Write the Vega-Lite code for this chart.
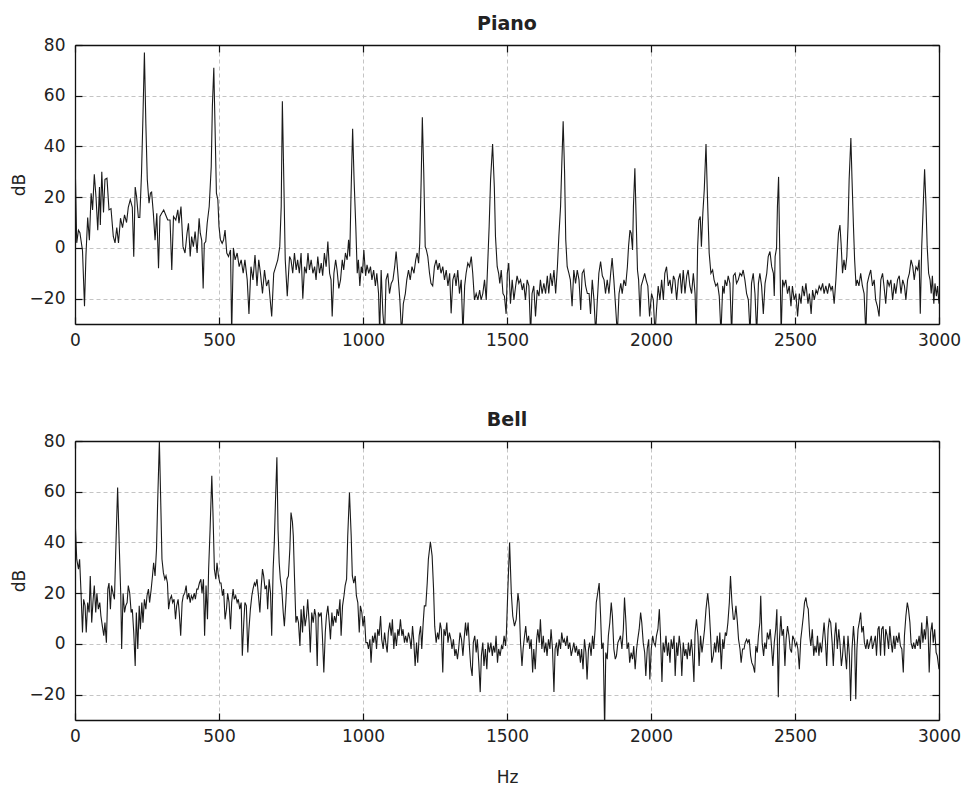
{
"$schema": "https://vega.github.io/schema/vega-lite/v6.json",
"background": "white",
"padding": {"left": 10, "top": 15, "right": 3, "bottom": 5},
"config": {
  "font": "DejaVu Sans",
  "view": {"stroke": null},
  "axis": {"labelFont": "DejaVu Sans", "labelFontSize": 17, "labelColor": "#222", "labelFlush": false, "titleFont": "DejaVu Sans", "titleFontSize": 17, "titleFontWeight": "normal", "titleColor": "#222", "gridColor": "#c4c4c4", "gridDash": [4, 3], "gridWidth": 1, "domain": true, "domainColor": "#111", "domainWidth": 1.3, "tickColor": "#111", "tickSize": -7, "tickWidth": 1.2, "zindex": 1},
  "title": {"font": "DejaVu Sans", "fontSize": 19, "fontWeight": "bold", "color": "#222", "offset": 2},
  "concat": {"spacing": 63}
},
"datasets": {
"piano": [{"f":0,"d":37},{"f":6,"d":2},{"f":12,"d":7},{"f":17,"d":6},{"f":26,"d":-1},{"f":33,"d":-23},{"f":38,"d":-3},{"f":44,"d":12},{"f":50,"d":3},{"f":56,"d":21.5},{"f":61,"d":15},{"f":67,"d":29},{"f":73,"d":20},{"f":79,"d":7},{"f":85,"d":24},{"f":88,"d":9},{"f":93,"d":30},{"f":99,"d":14},{"f":104,"d":27},{"f":111,"d":27.5},{"f":118,"d":15},{"f":125,"d":15.5},{"f":133,"d":4.5},{"f":139,"d":2},{"f":145,"d":8},{"f":151,"d":2},{"f":158,"d":11.7},{"f":165,"d":8},{"f":172,"d":13},{"f":179,"d":10},{"f":185,"d":16},{"f":192,"d":19},{"f":199,"d":16},{"f":204,"d":-3.5},{"f":209,"d":24},{"f":214,"d":20},{"f":220,"d":12},{"f":225,"d":12},{"f":231,"d":29.5},{"f":236,"d":52},{"f":241,"d":77},{"f":246,"d":49},{"f":251,"d":27},{"f":257,"d":17.6},{"f":262,"d":21.6},{"f":266,"d":22},{"f":272,"d":13.7},{"f":278,"d":3},{"f":284,"d":13.7},{"f":290,"d":-8},{"f":295,"d":12.4},{"f":301,"d":13.7},{"f":308,"d":15},{"f":315,"d":13},{"f":322,"d":11},{"f":330,"d":11},{"f":336,"d":-8.7},{"f":342,"d":12.4},{"f":350,"d":11},{"f":357,"d":15},{"f":361,"d":9.7},{"f":368,"d":16.3},{"f":375,"d":0.5},{"f":382,"d":-2},{"f":389,"d":5.8},{"f":394,"d":9.7},{"f":400,"d":-3.4},{"f":405,"d":4.5},{"f":411,"d":0.5},{"f":417,"d":6.4},{"f":424,"d":-2},{"f":431,"d":11.7},{"f":435,"d":5.8},{"f":440,"d":3},{"f":445,"d":-16},{"f":449,"d":1.8},{"f":454,"d":2.5},{"f":459,"d":9.7},{"f":466,"d":16.3},{"f":473,"d":32},{"f":477,"d":55.8},{"f":482,"d":71},{"f":486,"d":49},{"f":491,"d":21.6},{"f":496,"d":19},{"f":500,"d":8.4},{"f":505,"d":3.2},{"f":511,"d":1.8},{"f":516,"d":3.2},{"f":521,"d":7},{"f":527,"d":-2},{"f":533,"d":-3.4},{"f":540,"d":-0.8},{"f":544,"d":-34},{"f":550,"d":0},{"f":556,"d":-4.7},{"f":563,"d":-2},{"f":570,"d":-7.4},{"f":577,"d":-4.7},{"f":584,"d":-10},{"f":590,"d":-4.7},{"f":598,"d":-12.6},{"f":604,"d":-26},{"f":611,"d":-7.4},{"f":618,"d":-12.6},{"f":625,"d":-2.8},{"f":632,"d":-15},{"f":638,"d":-4.7},{"f":644,"d":-10},{"f":651,"d":-18},{"f":658,"d":-8.7},{"f":665,"d":-15},{"f":672,"d":-12.6},{"f":679,"d":-22},{"f":683,"d":-27},{"f":690,"d":-10},{"f":697,"d":-7.4},{"f":704,"d":-4.7},{"f":711,"d":0.5},{"f":716,"d":16.3},{"f":720,"d":57.8},{"f":725,"d":27},{"f":730,"d":-4.7},{"f":737,"d":-19},{"f":745,"d":-3.4},{"f":750,"d":-4.7},{"f":756,"d":-10},{"f":762,"d":-2},{"f":768,"d":-8.7},{"f":773,"d":-4.7},{"f":779,"d":-10},{"f":785,"d":-2},{"f":791,"d":-20},{"f":797,"d":-7.4},{"f":803,"d":-10},{"f":809,"d":-2},{"f":814,"d":-8.7},{"f":820,"d":-4.7},{"f":826,"d":-10},{"f":832,"d":-7.4},{"f":837,"d":-12.6},{"f":843,"d":-3.4},{"f":849,"d":-10},{"f":855,"d":-6},{"f":860,"d":-11},{"f":866,"d":-2},{"f":872,"d":-7.4},{"f":878,"d":2.5},{"f":884,"d":-10},{"f":889,"d":-12.6},{"f":893,"d":-27},{"f":899,"d":-10},{"f":905,"d":-4.7},{"f":910,"d":-8.7},{"f":916,"d":-16},{"f":922,"d":-12.6},{"f":928,"d":-4.7},{"f":933,"d":-8.7},{"f":939,"d":-2},{"f":945,"d":-4.7},{"f":950,"d":3.2},{"f":954,"d":-3.4},{"f":958,"d":19},{"f":964,"d":47},{"f":969,"d":27},{"f":975,"d":8.4},{"f":980,"d":-10},{"f":984,"d":-4.7},{"f":989,"d":-15},{"f":994,"d":-7.4},{"f":998,"d":-10},{"f":1003,"d":-0.8},{"f":1009,"d":-11},{"f":1014,"d":-6.7},{"f":1020,"d":-10},{"f":1026,"d":-7.4},{"f":1031,"d":-12.6},{"f":1037,"d":-8.7},{"f":1043,"d":-15},{"f":1048,"d":-10},{"f":1054,"d":-18},{"f":1058,"d":-34},{"f":1063,"d":-8.7},{"f":1069,"d":-25.8},{"f":1075,"d":-34},{"f":1080,"d":-12.6},{"f":1086,"d":-10},{"f":1092,"d":-18},{"f":1098,"d":-14},{"f":1104,"d":-12.6},{"f":1110,"d":-7.4},{"f":1115,"d":-1.4},{"f":1121,"d":-10},{"f":1128,"d":-20.5},{"f":1134,"d":-34},{"f":1140,"d":-22},{"f":1147,"d":-18},{"f":1152,"d":-12.6},{"f":1158,"d":-8.7},{"f":1164,"d":-12.6},{"f":1170,"d":-7.4},{"f":1177,"d":-10},{"f":1183,"d":-4.7},{"f":1188,"d":-2},{"f":1193,"d":-6},{"f":1197,"d":1.8},{"f":1202,"d":27},{"f":1206,"d":51.5},{"f":1211,"d":29.5},{"f":1216,"d":0.5},{"f":1220,"d":-0.8},{"f":1225,"d":-3.4},{"f":1231,"d":-10},{"f":1236,"d":-14},{"f":1242,"d":-15},{"f":1248,"d":-7.4},{"f":1254,"d":-4.7},{"f":1260,"d":-8.7},{"f":1265,"d":-6},{"f":1271,"d":-10},{"f":1277,"d":-7.4},{"f":1283,"d":-12.6},{"f":1289,"d":-8.7},{"f":1295,"d":-15},{"f":1301,"d":-10},{"f":1306,"d":-25.8},{"f":1312,"d":-12.6},{"f":1318,"d":-10},{"f":1323,"d":-15},{"f":1329,"d":-8.7},{"f":1335,"d":-18},{"f":1341,"d":-12.6},{"f":1347,"d":-34},{"f":1353,"d":-15},{"f":1358,"d":-10},{"f":1364,"d":-6},{"f":1370,"d":-7.4},{"f":1376,"d":-3.4},{"f":1381,"d":-10},{"f":1387,"d":-20.5},{"f":1393,"d":-18},{"f":1399,"d":-20.5},{"f":1405,"d":-16.6},{"f":1410,"d":-20.5},{"f":1416,"d":-18},{"f":1422,"d":-12.6},{"f":1428,"d":-20.5},{"f":1434,"d":-3.4},{"f":1438,"d":8.4},{"f":1443,"d":27},{"f":1450,"d":41},{"f":1456,"d":24},{"f":1460,"d":4.5},{"f":1466,"d":-7.4},{"f":1471,"d":-10},{"f":1475,"d":-14},{"f":1480,"d":-8.7},{"f":1486,"d":-18},{"f":1491,"d":-19},{"f":1497,"d":-26},{"f":1501,"d":-10},{"f":1506,"d":-6},{"f":1512,"d":-22},{"f":1518,"d":-12.6},{"f":1524,"d":-20.5},{"f":1530,"d":-15},{"f":1535,"d":-11},{"f":1541,"d":-14},{"f":1547,"d":-12.6},{"f":1553,"d":-16.6},{"f":1558,"d":-14},{"f":1564,"d":-20.5},{"f":1570,"d":-12.6},{"f":1576,"d":-15},{"f":1582,"d":-34},{"f":1587,"d":-18},{"f":1593,"d":-15},{"f":1599,"d":-27},{"f":1605,"d":-16.6},{"f":1611,"d":-19},{"f":1616,"d":-12.6},{"f":1622,"d":-18},{"f":1628,"d":-14},{"f":1634,"d":-18},{"f":1640,"d":-11},{"f":1645,"d":-18},{"f":1651,"d":-10},{"f":1657,"d":-15},{"f":1663,"d":-8.7},{"f":1669,"d":-18},{"f":1675,"d":-7.4},{"f":1680,"d":4.5},{"f":1686,"d":16.3},{"f":1690,"d":32},{"f":1695,"d":49.9},{"f":1700,"d":29.5},{"f":1704,"d":3.2},{"f":1709,"d":-7.4},{"f":1715,"d":-10},{"f":1720,"d":-12.6},{"f":1726,"d":-23},{"f":1732,"d":-8.7},{"f":1738,"d":-14},{"f":1744,"d":-8.7},{"f":1750,"d":-12.6},{"f":1756,"d":-24.5},{"f":1761,"d":-10},{"f":1767,"d":-8.7},{"f":1773,"d":-15},{"f":1779,"d":-18},{"f":1785,"d":-18},{"f":1790,"d":-26},{"f":1796,"d":-12.6},{"f":1802,"d":-20.5},{"f":1808,"d":-34},{"f":1813,"d":-22},{"f":1819,"d":-10},{"f":1825,"d":-5.4},{"f":1831,"d":-11},{"f":1837,"d":-12.6},{"f":1842,"d":-18},{"f":1848,"d":-12.6},{"f":1854,"d":-18},{"f":1860,"d":-10},{"f":1865,"d":-4},{"f":1871,"d":-12.6},{"f":1877,"d":-23},{"f":1883,"d":-34},{"f":1889,"d":-18},{"f":1895,"d":-14},{"f":1900,"d":-18},{"f":1906,"d":-12.6},{"f":1912,"d":-15},{"f":1918,"d":-7.4},{"f":1922,"d":0.5},{"f":1927,"d":7},{"f":1931,"d":5.8},{"f":1936,"d":-0.8},{"f":1939,"d":16.3},{"f":1944,"d":31.4},{"f":1948,"d":13.7},{"f":1953,"d":-8.7},{"f":1957,"d":-12.6},{"f":1962,"d":-27},{"f":1966,"d":-15},{"f":1972,"d":-12.6},{"f":1978,"d":-10},{"f":1983,"d":-12.6},{"f":1989,"d":-15},{"f":1995,"d":-27},{"f":2002,"d":-18},{"f":2008,"d":-20.5},{"f":2014,"d":-34},{"f":2019,"d":-24.5},{"f":2025,"d":-15},{"f":2031,"d":-20.5},{"f":2037,"d":-12.6},{"f":2043,"d":-20.5},{"f":2048,"d":-10},{"f":2054,"d":-7.4},{"f":2060,"d":-15},{"f":2066,"d":-12.6},{"f":2072,"d":-18},{"f":2078,"d":-11},{"f":2083,"d":-12.6},{"f":2089,"d":-20.5},{"f":2095,"d":-12.6},{"f":2101,"d":-10},{"f":2106,"d":-18},{"f":2112,"d":-8.7},{"f":2118,"d":-18},{"f":2124,"d":-11},{"f":2129,"d":-8.7},{"f":2135,"d":-15},{"f":2141,"d":-18},{"f":2147,"d":-10},{"f":2153,"d":-18},{"f":2157,"d":-34},{"f":2162,"d":0.5},{"f":2166,"d":11},{"f":2171,"d":12.4},{"f":2175,"d":0.5},{"f":2180,"d":13.7},{"f":2185,"d":23},{"f":2191,"d":41},{"f":2196,"d":20},{"f":2202,"d":-2},{"f":2208,"d":-10},{"f":2214,"d":-8.7},{"f":2219,"d":-12.6},{"f":2225,"d":-15},{"f":2231,"d":-14},{"f":2237,"d":-19},{"f":2243,"d":-34},{"f":2249,"d":-15},{"f":2254,"d":-18},{"f":2257,"d":-12.6},{"f":2263,"d":-15},{"f":2268,"d":-11},{"f":2274,"d":-14},{"f":2280,"d":-34},{"f":2286,"d":-11},{"f":2292,"d":-10},{"f":2297,"d":-14},{"f":2303,"d":-12.6},{"f":2309,"d":-10},{"f":2315,"d":-11},{"f":2320,"d":-8.7},{"f":2326,"d":-12.6},{"f":2332,"d":-18},{"f":2338,"d":-20.5},{"f":2344,"d":-34},{"f":2349,"d":-14},{"f":2355,"d":-10},{"f":2361,"d":-18},{"f":2367,"d":-34},{"f":2373,"d":-14},{"f":2378,"d":-10},{"f":2384,"d":-15},{"f":2390,"d":-26},{"f":2396,"d":-14},{"f":2402,"d":-10},{"f":2407,"d":-3.4},{"f":2413,"d":-1.4},{"f":2419,"d":-7.4},{"f":2425,"d":-10},{"f":2428,"d":-19},{"f":2431,"d":-3.4},{"f":2436,"d":0},{"f":2439,"d":16.3},{"f":2443,"d":28},{"f":2447,"d":-0.8},{"f":2452,"d":-34},{"f":2457,"d":-12.6},{"f":2462,"d":-15},{"f":2468,"d":-12.6},{"f":2474,"d":-18},{"f":2480,"d":-15},{"f":2486,"d":-23},{"f":2491,"d":-15},{"f":2497,"d":-20.5},{"f":2503,"d":-18},{"f":2509,"d":-27},{"f":2515,"d":-18},{"f":2521,"d":-22},{"f":2526,"d":-15},{"f":2532,"d":-19},{"f":2538,"d":-14},{"f":2545,"d":-22},{"f":2550,"d":-18},{"f":2556,"d":-26},{"f":2561,"d":-16.6},{"f":2567,"d":-20.5},{"f":2573,"d":-16.6},{"f":2578,"d":-18},{"f":2584,"d":-15},{"f":2590,"d":-16.6},{"f":2596,"d":-14},{"f":2601,"d":-18},{"f":2607,"d":-15},{"f":2613,"d":-18},{"f":2619,"d":-14},{"f":2625,"d":-16.6},{"f":2630,"d":-15},{"f":2636,"d":-22},{"f":2642,"d":-12.6},{"f":2647,"d":-2},{"f":2651,"d":5.8},{"f":2656,"d":9},{"f":2660,"d":1.8},{"f":2665,"d":-10},{"f":2670,"d":-4.7},{"f":2675,"d":-8.7},{"f":2680,"d":-3.4},{"f":2684,"d":8.4},{"f":2688,"d":27},{"f":2694,"d":43.3},{"f":2698,"d":27},{"f":2703,"d":8.4},{"f":2707,"d":-4.7},{"f":2712,"d":-15},{"f":2716,"d":-12.6},{"f":2722,"d":-15},{"f":2728,"d":-10},{"f":2734,"d":-15},{"f":2740,"d":-18},{"f":2746,"d":-34},{"f":2751,"d":-14},{"f":2757,"d":-11},{"f":2763,"d":-8.7},{"f":2769,"d":-15},{"f":2775,"d":-12.6},{"f":2780,"d":-20.5},{"f":2786,"d":-23},{"f":2792,"d":-27},{"f":2798,"d":-12.6},{"f":2804,"d":-10},{"f":2809,"d":-15},{"f":2815,"d":-22},{"f":2821,"d":-12.6},{"f":2827,"d":-15},{"f":2833,"d":-12.6},{"f":2839,"d":-20.5},{"f":2845,"d":-14},{"f":2850,"d":-18},{"f":2856,"d":-12.6},{"f":2862,"d":-11},{"f":2868,"d":-18},{"f":2874,"d":-12.6},{"f":2880,"d":-15},{"f":2885,"d":-20.5},{"f":2891,"d":-12.6},{"f":2897,"d":-10},{"f":2903,"d":-4.7},{"f":2909,"d":-7.4},{"f":2914,"d":-12.6},{"f":2920,"d":-7.4},{"f":2926,"d":-8.7},{"f":2931,"d":-4.7},{"f":2935,"d":-26},{"f":2940,"d":0.5},{"f":2946,"d":19},{"f":2950,"d":31},{"f":2955,"d":16.3},{"f":2959,"d":0.5},{"f":2964,"d":-10},{"f":2969,"d":-12.6},{"f":2973,"d":-18},{"f":2977,"d":-11},{"f":2982,"d":-22},{"f":2986,"d":-14},{"f":2991,"d":-19},{"f":2995,"d":-15},{"f":3000,"d":-22}],
"bell": [{"f":0,"d":50},{"f":6,"d":33.4},{"f":12,"d":29.5},{"f":16,"d":33.4},{"f":21,"d":20},{"f":26,"d":4.5},{"f":30,"d":17.6},{"f":35,"d":15},{"f":39,"d":4.5},{"f":44,"d":16.3},{"f":49,"d":12.4},{"f":53,"d":26.8},{"f":58,"d":8.4},{"f":63,"d":17.6},{"f":67,"d":23},{"f":72,"d":12.4},{"f":76,"d":20},{"f":81,"d":13.7},{"f":86,"d":16.3},{"f":90,"d":11},{"f":95,"d":7},{"f":100,"d":3.2},{"f":104,"d":8.4},{"f":109,"d":0.5},{"f":114,"d":21.6},{"f":118,"d":24},{"f":123,"d":13.7},{"f":127,"d":23},{"f":132,"d":20},{"f":137,"d":17.6},{"f":143,"d":42.6},{"f":148,"d":61.7},{"f":154,"d":37.4},{"f":159,"d":19},{"f":162,"d":-2},{"f":167,"d":20},{"f":172,"d":12.4},{"f":176,"d":15},{"f":181,"d":16.3},{"f":185,"d":23},{"f":190,"d":20},{"f":195,"d":12.4},{"f":199,"d":13.7},{"f":204,"d":4.5},{"f":209,"d":-8.7},{"f":213,"d":12.4},{"f":218,"d":-2},{"f":223,"d":15},{"f":227,"d":5.8},{"f":232,"d":16.3},{"f":236,"d":8.4},{"f":241,"d":17.6},{"f":246,"d":13.7},{"f":250,"d":19},{"f":255,"d":21.6},{"f":259,"d":16.3},{"f":264,"d":21},{"f":269,"d":26.8},{"f":273,"d":32},{"f":278,"d":26.8},{"f":283,"d":37.4},{"f":287,"d":55.8},{"f":293,"d":80},{"f":298,"d":54.5},{"f":302,"d":33.4},{"f":307,"d":28},{"f":312,"d":25.5},{"f":316,"d":26.8},{"f":321,"d":24},{"f":325,"d":13.7},{"f":330,"d":17.6},{"f":335,"d":19},{"f":339,"d":16.3},{"f":344,"d":17.6},{"f":349,"d":9.7},{"f":353,"d":15},{"f":358,"d":17.6},{"f":362,"d":12.4},{"f":367,"d":3.2},{"f":372,"d":16.3},{"f":376,"d":19},{"f":381,"d":20},{"f":386,"d":23},{"f":390,"d":17.6},{"f":395,"d":20},{"f":400,"d":16.3},{"f":404,"d":19},{"f":409,"d":17.6},{"f":414,"d":20},{"f":418,"d":17.6},{"f":423,"d":21.6},{"f":427,"d":21.6},{"f":432,"d":24},{"f":437,"d":25.5},{"f":441,"d":20},{"f":446,"d":25.5},{"f":450,"d":3.2},{"f":455,"d":23},{"f":460,"d":9.7},{"f":464,"d":29.5},{"f":469,"d":45},{"f":475,"d":66.3},{"f":479,"d":51.8},{"f":484,"d":29.5},{"f":489,"d":25.5},{"f":493,"d":32},{"f":498,"d":26.8},{"f":503,"d":24},{"f":507,"d":24},{"f":512,"d":19},{"f":516,"d":21.6},{"f":521,"d":9.7},{"f":526,"d":13.7},{"f":530,"d":20},{"f":535,"d":16.3},{"f":540,"d":5.8},{"f":544,"d":16.3},{"f":549,"d":21.6},{"f":553,"d":17.6},{"f":558,"d":19},{"f":563,"d":16.3},{"f":567,"d":17.6},{"f":572,"d":13.7},{"f":577,"d":16.3},{"f":581,"d":-4.7},{"f":586,"d":8.4},{"f":590,"d":16.3},{"f":595,"d":15},{"f":600,"d":-3.4},{"f":604,"d":5.8},{"f":609,"d":13.7},{"f":614,"d":19},{"f":618,"d":21.6},{"f":623,"d":24},{"f":627,"d":23},{"f":632,"d":25.5},{"f":637,"d":19},{"f":642,"d":12.4},{"f":646,"d":21.6},{"f":651,"d":29.5},{"f":655,"d":26.8},{"f":660,"d":21.6},{"f":665,"d":23},{"f":669,"d":13.7},{"f":674,"d":25.5},{"f":679,"d":20},{"f":683,"d":3.2},{"f":688,"d":29.5},{"f":692,"d":40},{"f":696,"d":55.8},{"f":701,"d":73.6},{"f":705,"d":45},{"f":709,"d":32},{"f":713,"d":25.5},{"f":718,"d":21.6},{"f":723,"d":12.4},{"f":727,"d":7},{"f":732,"d":16.3},{"f":736,"d":25.5},{"f":741,"d":26.8},{"f":746,"d":37.4},{"f":750,"d":51.8},{"f":755,"d":48},{"f":758,"d":42.6},{"f":762,"d":26.8},{"f":767,"d":8.4},{"f":771,"d":11},{"f":776,"d":8.4},{"f":781,"d":-0.8},{"f":785,"d":13.7},{"f":790,"d":4.5},{"f":794,"d":15},{"f":799,"d":7},{"f":804,"d":11},{"f":808,"d":17.6},{"f":813,"d":8.4},{"f":817,"d":-3.4},{"f":822,"d":12.4},{"f":827,"d":8.4},{"f":832,"d":13.7},{"f":836,"d":11},{"f":841,"d":-8.7},{"f":845,"d":12.4},{"f":850,"d":11},{"f":855,"d":12.4},{"f":859,"d":3.2},{"f":864,"d":-11.3},{"f":869,"d":4.5},{"f":873,"d":11},{"f":878,"d":15},{"f":883,"d":8.4},{"f":887,"d":1.8},{"f":892,"d":12.4},{"f":896,"d":7},{"f":901,"d":11},{"f":906,"d":8.4},{"f":910,"d":13.7},{"f":915,"d":11},{"f":920,"d":17.6},{"f":924,"d":3.2},{"f":929,"d":15},{"f":934,"d":19},{"f":938,"d":23},{"f":943,"d":25.5},{"f":947,"d":42.6},{"f":953,"d":59.7},{"f":959,"d":42.6},{"f":963,"d":26.8},{"f":968,"d":24},{"f":973,"d":26.8},{"f":977,"d":19},{"f":982,"d":16.3},{"f":987,"d":4.5},{"f":991,"d":15},{"f":996,"d":12.4},{"f":1000,"d":7},{"f":1005,"d":11},{"f":1010,"d":0.5},{"f":1015,"d":0.5},{"f":1019,"d":-2},{"f":1024,"d":1.8},{"f":1028,"d":-7.4},{"f":1033,"d":3.2},{"f":1037,"d":0.5},{"f":1042,"d":4.5},{"f":1047,"d":-2},{"f":1051,"d":5.8},{"f":1056,"d":3.2},{"f":1061,"d":11},{"f":1065,"d":1.8},{"f":1070,"d":-2},{"f":1075,"d":4.5},{"f":1079,"d":0.5},{"f":1084,"d":-3.4},{"f":1088,"d":4.5},{"f":1093,"d":8.4},{"f":1098,"d":3.2},{"f":1102,"d":9.7},{"f":1107,"d":-2},{"f":1111,"d":4.5},{"f":1116,"d":-0.8},{"f":1121,"d":5.8},{"f":1125,"d":3.2},{"f":1130,"d":9.7},{"f":1135,"d":3.2},{"f":1139,"d":5.8},{"f":1144,"d":0.5},{"f":1148,"d":3.2},{"f":1153,"d":0.5},{"f":1158,"d":4.5},{"f":1163,"d":1.8},{"f":1167,"d":-2},{"f":1172,"d":7},{"f":1176,"d":1.8},{"f":1181,"d":-8.7},{"f":1186,"d":0.5},{"f":1190,"d":-7.4},{"f":1195,"d":3.2},{"f":1200,"d":7},{"f":1204,"d":-2},{"f":1209,"d":8.4},{"f":1213,"d":15},{"f":1218,"d":15},{"f":1223,"d":24},{"f":1227,"d":33.4},{"f":1234,"d":40.3},{"f":1240,"d":34.7},{"f":1245,"d":21.6},{"f":1249,"d":7},{"f":1254,"d":0.5},{"f":1259,"d":4.5},{"f":1263,"d":1.8},{"f":1268,"d":8.4},{"f":1272,"d":5.8},{"f":1277,"d":-11.3},{"f":1281,"d":5.8},{"f":1286,"d":3.2},{"f":1291,"d":8.4},{"f":1295,"d":0.5},{"f":1300,"d":4.5},{"f":1305,"d":1.8},{"f":1309,"d":-2},{"f":1314,"d":1.8},{"f":1319,"d":-4.7},{"f":1323,"d":-2},{"f":1328,"d":-6},{"f":1332,"d":-2},{"f":1337,"d":4.5},{"f":1342,"d":1.8},{"f":1347,"d":-4.7},{"f":1351,"d":1.8},{"f":1356,"d":8.4},{"f":1360,"d":3.2},{"f":1365,"d":8.4},{"f":1370,"d":-2},{"f":1374,"d":-8.7},{"f":1379,"d":-12.6},{"f":1383,"d":0.5},{"f":1388,"d":3.2},{"f":1393,"d":-3.4},{"f":1397,"d":1.8},{"f":1402,"d":-7.4},{"f":1407,"d":-19},{"f":1411,"d":-4.7},{"f":1416,"d":0.5},{"f":1420,"d":-8.7},{"f":1425,"d":-2},{"f":1430,"d":-10},{"f":1434,"d":0.5},{"f":1439,"d":-3.4},{"f":1444,"d":0.5},{"f":1449,"d":-4.7},{"f":1453,"d":-0.8},{"f":1458,"d":-3.4},{"f":1462,"d":3.2},{"f":1467,"d":-7.4},{"f":1471,"d":-2},{"f":1476,"d":-4.7},{"f":1481,"d":-0.8},{"f":1485,"d":-2},{"f":1490,"d":3.2},{"f":1495,"d":-0.8},{"f":1498,"d":4.5},{"f":1503,"d":21.6},{"f":1509,"d":40},{"f":1515,"d":20},{"f":1520,"d":11},{"f":1526,"d":7},{"f":1532,"d":9.7},{"f":1538,"d":20},{"f":1542,"d":16.3},{"f":1547,"d":0.5},{"f":1552,"d":-8.7},{"f":1556,"d":-2},{"f":1561,"d":3.2},{"f":1565,"d":7},{"f":1570,"d":0.5},{"f":1575,"d":3.2},{"f":1579,"d":-2},{"f":1584,"d":1.8},{"f":1589,"d":-11.3},{"f":1593,"d":-2},{"f":1598,"d":-10},{"f":1603,"d":1.8},{"f":1607,"d":5.8},{"f":1612,"d":0.5},{"f":1616,"d":9.7},{"f":1621,"d":-2},{"f":1626,"d":3.2},{"f":1630,"d":-3.4},{"f":1635,"d":0.5},{"f":1639,"d":-4.7},{"f":1644,"d":1.8},{"f":1649,"d":-2},{"f":1653,"d":5.8},{"f":1658,"d":-2},{"f":1663,"d":-19},{"f":1667,"d":-2},{"f":1672,"d":0.5},{"f":1676,"d":-4.7},{"f":1681,"d":1.8},{"f":1686,"d":-2},{"f":1690,"d":4.5},{"f":1695,"d":0.5},{"f":1699,"d":1.8},{"f":1704,"d":-0.8},{"f":1709,"d":3.2},{"f":1713,"d":-2},{"f":1718,"d":0.5},{"f":1723,"d":-4.7},{"f":1728,"d":-2},{"f":1732,"d":0.5},{"f":1737,"d":-3.4},{"f":1741,"d":-0.8},{"f":1746,"d":-4.7},{"f":1750,"d":-2},{"f":1755,"d":-7.4},{"f":1759,"d":-2},{"f":1764,"d":-10},{"f":1769,"d":1.8},{"f":1774,"d":-3.4},{"f":1778,"d":-14},{"f":1783,"d":-2},{"f":1787,"d":0.5},{"f":1792,"d":-4.7},{"f":1797,"d":3.2},{"f":1801,"d":-2},{"f":1806,"d":5.8},{"f":1810,"d":16.3},{"f":1815,"d":20},{"f":1820,"d":24},{"f":1825,"d":11},{"f":1829,"d":-2},{"f":1834,"d":0.5},{"f":1839,"d":-34},{"f":1843,"d":-3.4},{"f":1848,"d":-6},{"f":1852,"d":3.2},{"f":1857,"d":8.4},{"f":1862,"d":16.3},{"f":1866,"d":11},{"f":1871,"d":-2},{"f":1876,"d":-6},{"f":1880,"d":-4.7},{"f":1885,"d":0.5},{"f":1890,"d":1.8},{"f":1894,"d":3.2},{"f":1899,"d":-2},{"f":1904,"d":5.8},{"f":1908,"d":18.3},{"f":1913,"d":8.4},{"f":1917,"d":-2},{"f":1922,"d":0.5},{"f":1926,"d":-7.4},{"f":1931,"d":-3.4},{"f":1936,"d":-6},{"f":1940,"d":-0.8},{"f":1945,"d":-10},{"f":1950,"d":-2},{"f":1954,"d":1.8},{"f":1959,"d":5.8},{"f":1964,"d":12.4},{"f":1968,"d":8.4},{"f":1973,"d":0.5},{"f":1978,"d":-3.4},{"f":1982,"d":-12.6},{"f":1987,"d":-2},{"f":1992,"d":1.8},{"f":1996,"d":-14},{"f":2001,"d":-2},{"f":2006,"d":3.2},{"f":2010,"d":0.5},{"f":2015,"d":-0.8},{"f":2019,"d":3.2},{"f":2024,"d":5.8},{"f":2029,"d":13.7},{"f":2033,"d":3.2},{"f":2038,"d":-15},{"f":2042,"d":0.5},{"f":2047,"d":-3.4},{"f":2052,"d":3.2},{"f":2057,"d":-4.7},{"f":2061,"d":0.5},{"f":2066,"d":-7.4},{"f":2070,"d":1.8},{"f":2075,"d":-2},{"f":2080,"d":3.2},{"f":2084,"d":-12.6},{"f":2089,"d":0.5},{"f":2093,"d":-4.7},{"f":2098,"d":3.2},{"f":2103,"d":-2},{"f":2107,"d":-12.6},{"f":2112,"d":0.5},{"f":2117,"d":-4.7},{"f":2121,"d":-2},{"f":2126,"d":-6},{"f":2130,"d":0.5},{"f":2135,"d":-4.7},{"f":2140,"d":1.8},{"f":2144,"d":-3.4},{"f":2149,"d":-15},{"f":2153,"d":4.5},{"f":2158,"d":9.7},{"f":2163,"d":3.2},{"f":2167,"d":-8.7},{"f":2172,"d":3.2},{"f":2177,"d":-3.4},{"f":2181,"d":0.5},{"f":2186,"d":5.8},{"f":2191,"d":13.7},{"f":2197,"d":19.9},{"f":2202,"d":13.7},{"f":2207,"d":3.2},{"f":2211,"d":-7.4},{"f":2216,"d":-4.7},{"f":2221,"d":0.5},{"f":2225,"d":-3.4},{"f":2230,"d":3.2},{"f":2235,"d":-3.4},{"f":2239,"d":4.5},{"f":2244,"d":-10},{"f":2249,"d":1.8},{"f":2253,"d":-2},{"f":2258,"d":4.5},{"f":2262,"d":3.2},{"f":2267,"d":8.4},{"f":2272,"d":16.3},{"f":2276,"d":26.8},{"f":2281,"d":16.3},{"f":2286,"d":9.7},{"f":2290,"d":9.7},{"f":2295,"d":15},{"f":2300,"d":8.4},{"f":2304,"d":1.8},{"f":2309,"d":-2},{"f":2313,"d":-7.4},{"f":2318,"d":-2},{"f":2323,"d":-2},{"f":2327,"d":0.5},{"f":2332,"d":1.8},{"f":2336,"d":0.5},{"f":2341,"d":1.8},{"f":2346,"d":-4.7},{"f":2350,"d":-7.4},{"f":2355,"d":-8.7},{"f":2360,"d":-11.3},{"f":2364,"d":-0.8},{"f":2369,"d":-3.4},{"f":2373,"d":3.2},{"f":2378,"d":8.4},{"f":2381,"d":19},{"f":2386,"d":0.5},{"f":2391,"d":-4.7},{"f":2395,"d":0.5},{"f":2400,"d":-2},{"f":2404,"d":4.5},{"f":2409,"d":1.8},{"f":2414,"d":5.8},{"f":2419,"d":-2},{"f":2423,"d":-8.7},{"f":2428,"d":0.5},{"f":2433,"d":5.8},{"f":2437,"d":13.7},{"f":2442,"d":-21},{"f":2446,"d":1.8},{"f":2451,"d":11},{"f":2455,"d":3.2},{"f":2460,"d":5.8},{"f":2465,"d":-8.7},{"f":2469,"d":1.8},{"f":2474,"d":7},{"f":2479,"d":3.2},{"f":2483,"d":-2},{"f":2488,"d":-3.4},{"f":2492,"d":3.2},{"f":2497,"d":1.8},{"f":2501,"d":-0.8},{"f":2506,"d":0.5},{"f":2510,"d":-2},{"f":2515,"d":-10},{"f":2520,"d":1.8},{"f":2524,"d":5.8},{"f":2529,"d":11},{"f":2533,"d":16.3},{"f":2538,"d":18.3},{"f":2542,"d":15},{"f":2546,"d":13.7},{"f":2551,"d":3.2},{"f":2555,"d":-0.8},{"f":2560,"d":5.8},{"f":2565,"d":-4.7},{"f":2569,"d":-0.8},{"f":2574,"d":-3.4},{"f":2578,"d":3.2},{"f":2583,"d":-4.7},{"f":2587,"d":0.5},{"f":2592,"d":-3.4},{"f":2597,"d":3.2},{"f":2601,"d":8.4},{"f":2606,"d":0.5},{"f":2610,"d":-8.7},{"f":2615,"d":5.8},{"f":2619,"d":9.7},{"f":2624,"d":8.4},{"f":2629,"d":0.5},{"f":2633,"d":-8.7},{"f":2638,"d":3.2},{"f":2642,"d":8.4},{"f":2647,"d":-2},{"f":2652,"d":5.8},{"f":2656,"d":0.5},{"f":2661,"d":-8.7},{"f":2665,"d":-4.7},{"f":2670,"d":3.2},{"f":2675,"d":-4.7},{"f":2679,"d":-10},{"f":2684,"d":3.2},{"f":2689,"d":-4.7},{"f":2693,"d":-22.5},{"f":2698,"d":-2},{"f":2703,"d":7},{"f":2707,"d":0.5},{"f":2711,"d":-21.8},{"f":2715,"d":-2},{"f":2719,"d":5.8},{"f":2723,"d":8.4},{"f":2728,"d":12.4},{"f":2732,"d":4.5},{"f":2737,"d":7},{"f":2741,"d":0.5},{"f":2746,"d":-2},{"f":2751,"d":1.8},{"f":2755,"d":-2},{"f":2760,"d":0.5},{"f":2765,"d":3.2},{"f":2769,"d":-2},{"f":2774,"d":0.5},{"f":2779,"d":3.2},{"f":2783,"d":-4.7},{"f":2788,"d":5.8},{"f":2792,"d":7},{"f":2797,"d":-4.7},{"f":2801,"d":5.8},{"f":2806,"d":7},{"f":2811,"d":-4.7},{"f":2815,"d":5.8},{"f":2820,"d":3.2},{"f":2825,"d":-2},{"f":2829,"d":7},{"f":2834,"d":0.5},{"f":2838,"d":-3.4},{"f":2843,"d":3.2},{"f":2847,"d":-2},{"f":2852,"d":3.2},{"f":2857,"d":0.5},{"f":2861,"d":4.5},{"f":2866,"d":-0.8},{"f":2871,"d":-2},{"f":2876,"d":-11.3},{"f":2880,"d":3.2},{"f":2885,"d":11},{"f":2890,"d":16.3},{"f":2894,"d":13.7},{"f":2899,"d":8.4},{"f":2903,"d":0.5},{"f":2908,"d":-2},{"f":2912,"d":0.5},{"f":2917,"d":-2},{"f":2922,"d":1.8},{"f":2926,"d":-0.8},{"f":2931,"d":3.2},{"f":2935,"d":-2},{"f":2940,"d":8.4},{"f":2944,"d":0.5},{"f":2949,"d":5.8},{"f":2953,"d":1.8},{"f":2958,"d":11},{"f":2962,"d":5.8},{"f":2966,"d":-11.3},{"f":2971,"d":4.5},{"f":2976,"d":8.4},{"f":2980,"d":0.5},{"f":2985,"d":5.8},{"f":2990,"d":-3.4},{"f":2994,"d":-4.7},{"f":3000,"d":-10}]
},
"vconcat": [
 {
  "title": "Piano",
  "width": 864, "height": 279,
  "data": {"name": "piano"},
  "layer": [
   {"mark": {"type": "line", "color": "#1a1a1a", "strokeWidth": 1.1, "clip": true},
    "encoding": {
     "x": {"field": "f", "type": "quantitative", "scale": {"domain": [0, 3000], "nice": false}, "axis": {"orient": "bottom", "values": [0,500,1000,1500,2000,2500,3000], "format": "d", "title": null, "labelPadding": 15}},
     "y": {"field": "d", "type": "quantitative", "scale": {"domain": [-30, 80], "nice": false, "zero": false}, "axis": {"orient": "left", "values": [-20,0,20,40,60,80], "format": "d", "title": "dB", "labelPadding": 17, "titlePadding": 1}}
    }},
   {"mark": {"type": "line", "strokeOpacity": 0, "clip": true},
    "encoding": {
     "x": {"field": "f", "type": "quantitative", "scale": {"domain": [0, 3000], "nice": false}, "axis": {"orient": "top", "values": [0,500,1000,1500,2000,2500,3000], "labels": false, "grid": false, "title": null}},
     "y": {"field": "d", "type": "quantitative", "scale": {"domain": [-30, 80], "nice": false, "zero": false}, "axis": {"orient": "right", "values": [-20,0,20,40,60,80], "labels": false, "grid": false, "title": null}}
    }}
  ],
  "resolve": {"axis": {"x": "independent", "y": "independent"}}
 },
 {
  "title": "Bell",
  "width": 864, "height": 279,
  "data": {"name": "bell"},
  "layer": [
   {"mark": {"type": "line", "color": "#1a1a1a", "strokeWidth": 1.1, "clip": true},
    "encoding": {
     "x": {"field": "f", "type": "quantitative", "scale": {"domain": [0, 3000], "nice": false}, "axis": {"orient": "bottom", "values": [0,500,1000,1500,2000,2500,3000], "format": "d", "title": "Hz", "labelPadding": 15, "titlePadding": 25}},
     "y": {"field": "d", "type": "quantitative", "scale": {"domain": [-30, 80], "nice": false, "zero": false}, "axis": {"orient": "left", "values": [-20,0,20,40,60,80], "format": "d", "title": "dB", "labelPadding": 17, "titlePadding": 1}}
    }},
   {"mark": {"type": "line", "strokeOpacity": 0, "clip": true},
    "encoding": {
     "x": {"field": "f", "type": "quantitative", "scale": {"domain": [0, 3000], "nice": false}, "axis": {"orient": "top", "values": [0,500,1000,1500,2000,2500,3000], "labels": false, "grid": false, "title": null}},
     "y": {"field": "d", "type": "quantitative", "scale": {"domain": [-30, 80], "nice": false, "zero": false}, "axis": {"orient": "right", "values": [-20,0,20,40,60,80], "labels": false, "grid": false, "title": null}}
    }}
  ],
  "resolve": {"axis": {"x": "independent", "y": "independent"}}
 }
]
}
